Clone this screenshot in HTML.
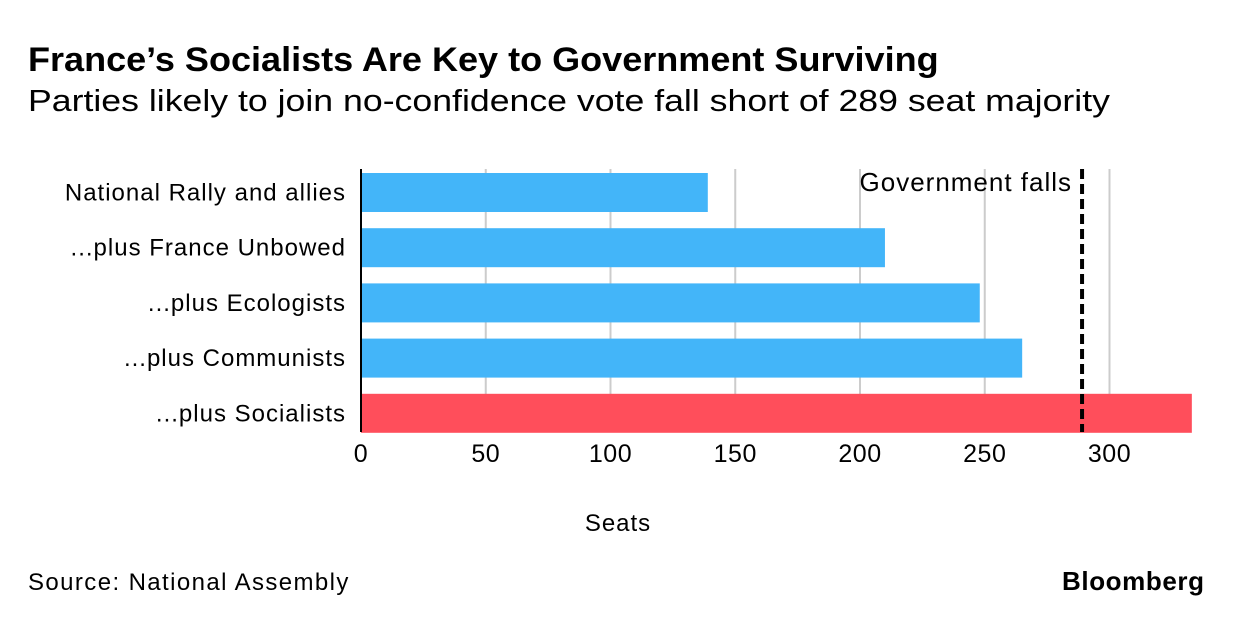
<!DOCTYPE html>
<html><head><meta charset="utf-8"><style>
body{margin:0;background:#fff;font-family:"Liberation Sans",sans-serif;}
#wrap{position:relative;width:1236px;height:626px;overflow:hidden;}
.t{position:absolute;white-space:nowrap;color:#000;transform-origin:0 0;}
</style></head><body>
<div id="wrap">
<div class="t" style="left:28px;top:41px;font-size:34px;font-weight:bold;transform:scaleX(1.06);">France’s Socialists Are Key to Government Surviving</div>
<div class="t" style="left:28px;top:83px;font-size:31px;transform:scaleX(1.15);">Parties likely to join no-confidence vote fall short of 289 seat majority</div>
<svg id="chart" width="1236" height="626" style="position:absolute;left:0;top:0"></svg>
<div class="t" style="left:28px;top:569px;font-size:24px;letter-spacing:1.4px;">Source: National Assembly</div>
<div class="t" style="left:1062px;top:566px;font-size:26px;font-weight:bold;letter-spacing:0.6px;">Bloomberg</div>
</div>
<script>
const categories=["National Rally and allies","...plus France Unbowed","...plus Ecologists","...plus Communists","...plus Socialists"];
const seats=[139,210,248,265,333];
const highlight=[false,false,false,false,true];
const ticks=[0,50,100,150,200,250,300];
const threshold=289;
const NS="http://www.w3.org/2000/svg";
const svg=document.getElementById('chart');
const x0=361,pps=2.495;
const xs=v=>x0+v*pps;
const rowTop=i=>173+i*55.2;
const barH=39;
function mk(tag,attrs){const e=document.createElementNS(NS,tag);for(const k in attrs)e.setAttribute(k,attrs[k]);svg.appendChild(e);return e;}
ticks.forEach(t=>{
  if(t>0){const g=mk('line',{x1:xs(t),x2:xs(t),y1:169,y2:432,stroke:'#cccccc','stroke-width':2});
  
  }
  const l=mk('text',{x:xs(t),y:462,'font-size':25,'letter-spacing':0.5,'text-anchor':'middle','font-family':'Liberation Sans, sans-serif'});
  l.textContent=t;
  
  
});
categories.forEach((c,i)=>{
  const r=mk('rect',{x:x0,y:rowTop(i),width:xs(seats[i])-x0,height:barH,fill:highlight[i]?'#ff4e5b':'#43b5f9'});
  
  
  const l=mk('text',{x:346,y:rowTop(i)+barH/2+8,'font-size':24,'letter-spacing':1,'text-anchor':'end','font-family':'Liberation Sans, sans-serif'});
  l.textContent=c;
  
  
});
const ax=mk('line',{x1:x0,x2:x0,y1:169,y2:432,stroke:'#000','stroke-width':2});


const th=mk('line',{x1:xs(threshold),x2:xs(threshold),y1:169,y2:432,stroke:'#000','stroke-width':4,'stroke-dasharray':'10,5'});


const tl=mk('text',{x:xs(threshold)-10,y:191,'font-size':26,'letter-spacing':1,'text-anchor':'end','font-family':'Liberation Sans, sans-serif'});
tl.textContent='Government falls';


const xt=mk('text',{x:618,y:531,'font-size':24,'letter-spacing':1,'text-anchor':'middle','font-family':'Liberation Sans, sans-serif'});
xt.textContent='Seats';


</script>
</body></html>
